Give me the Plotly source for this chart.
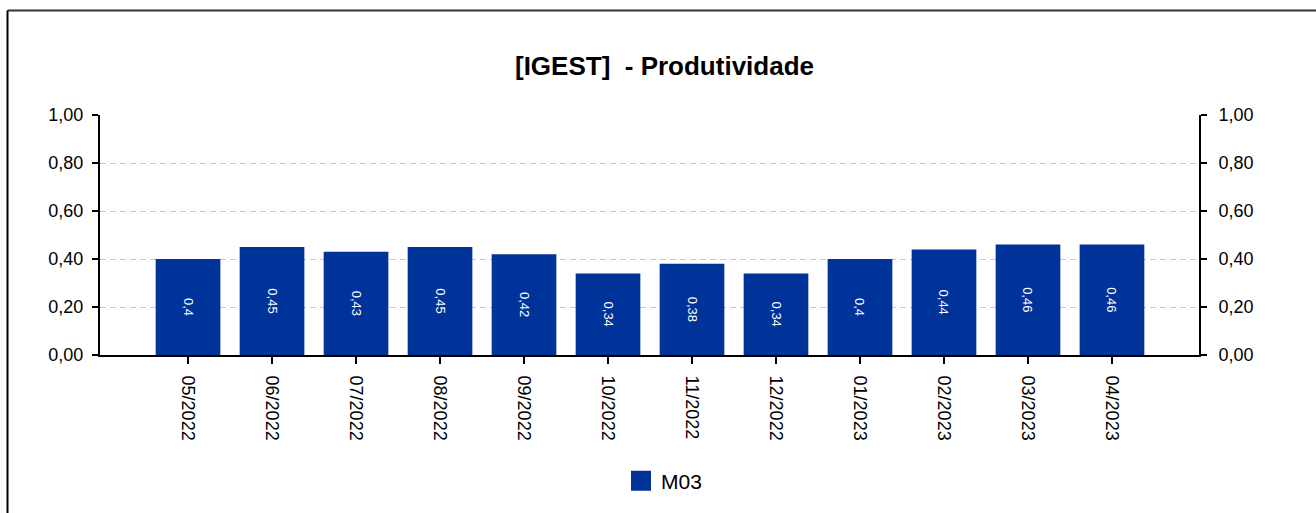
import plotly.graph_objects as go

# Monthly productivity index for M03
months = ["05/2022", "06/2022", "07/2022", "08/2022", "09/2022", "10/2022",
          "11/2022", "12/2022", "01/2023", "02/2023", "03/2023", "04/2023"]
values = [0.40, 0.45, 0.43, 0.45, 0.42, 0.34, 0.38, 0.34, 0.40, 0.44, 0.46, 0.46]
series_name = "M03"
y_ticks = [0.0, 0.2, 0.4, 0.6, 0.8, 1.0]

BLUE = "#003399"
FONT = "Liberation Sans, Arial, sans-serif"

labels = [f"{v:g}".replace(".", ",") for v in values]
idx = list(range(len(months)))

fig = go.Figure()
fig.add_trace(go.Bar(
    x=idx, y=values, width=0.77,
    marker=dict(color=BLUE, line=dict(width=0)),
    text=labels, textposition="inside", insidetextanchor="middle",
    textangle=90, textfont=dict(color="white", size=13, family=FONT),
    showlegend=False, hoverinfo="skip",
))
# legend entry for the series (square swatch)
fig.add_trace(go.Scatter(
    x=[None], y=[None], mode="markers", name=series_name,
    marker=dict(symbol="square", size=16, color=BLUE, line=dict(width=4, color=BLUE)),
    yaxis="y2",
))

axis_common = dict(
    range=[0, 1.0], tickvals=y_ticks, tickformat=".2f",
    showline=True, linecolor="black", linewidth=2,
    ticks="outside", ticklen=6, tickwidth=2, tickcolor="black",
    tickfont=dict(size=18, color="black", family=FONT),
    zeroline=False,
)

fig.update_layout(
    width=1316, height=513,
    margin=dict(l=100, r=117, t=115, b=158),
    paper_bgcolor="white", plot_bgcolor="white",
    separators=",.",
    font=dict(family=FONT, color="black"),
    title=dict(text="<b>[IGEST]  - Produtividade</b>", x=664.5 / 1316, xanchor="center",
               y=1 - 66 / 513, yanchor="middle", font=dict(size=26, color="black", family=FONT)),
    xaxis=dict(
        range=[-1.048, 12.036], tickvals=idx, ticktext=months, tickangle=90,
        showline=True, linecolor="black", linewidth=2,
        ticks="outside", ticklen=7, tickwidth=2, tickcolor="black",
        tickfont=dict(size=18, color="black", family=FONT),
        showgrid=False, zeroline=False, ticklabelstandoff=8,
    ),
    yaxis=dict(**axis_common, showgrid=True, gridcolor="#c8c8c8", gridwidth=1,
               griddash="6px,4px", ticklabelstandoff=5),
    yaxis2=dict(**axis_common, overlaying="y", side="right", showgrid=False,
                ticklabelstandoff=8),
    legend=dict(orientation="h", x=(621 - 100) / 1099, xanchor="left",
                y=(355 - 481) / 240, yanchor="middle",
                font=dict(size=21, color="black", family=FONT)),
    shapes=[
        dict(type="line", xref="paper", yref="paper", x0=(7.5 - 100) / 1099, x1=1.2,
             y0=(355 - 10.5) / 240, y1=(355 - 10.5) / 240, line=dict(color="#333333", width=2)),
        dict(type="line", xref="paper", yref="paper", x0=(7.5 - 100) / 1099, x1=(7.5 - 100) / 1099,
             y0=(355 - 10.5) / 240, y1=-0.8, line=dict(color="black", width=2)),
    ],
)

fig.write_html("out.html")
